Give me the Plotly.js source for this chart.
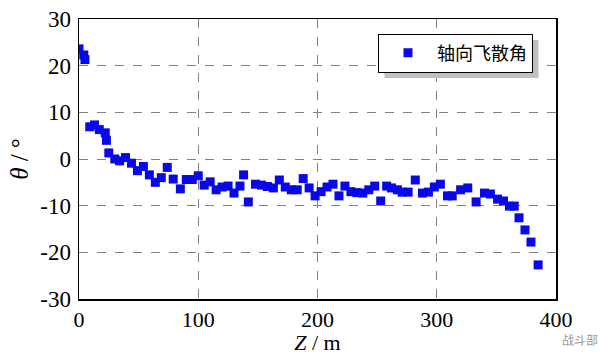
<!DOCTYPE html>
<html>
<head>
<meta charset="utf-8">
<script src="https://cdn.plot.ly/plotly-3.0.1.min.js"></script>
<style>html,body{margin:0;padding:0;background:#fff;}#chart{width:603px;height:355px;}</style>
</head>
<body>
<div id="chart"></div>
<script>
const seriesName = '轴向飞散角';
const zValues = [0, 4, 5, 9, 13, 17, 22, 23, 25, 30, 34, 39, 44, 49, 54, 59, 64, 69, 74, 79, 85, 90, 95, 100, 105, 110, 115, 120, 125, 130, 135, 138, 142, 148, 153, 158, 163, 168, 173, 178, 183, 188, 193, 198, 203, 208, 213, 218, 223, 228, 233, 238, 243, 248, 253, 258, 262, 267, 271, 276, 282, 288, 293, 298, 303, 309, 313, 320, 326, 333, 340, 345, 351, 356, 361, 365, 369, 374, 379, 385];
const thetaValues = [23.6, 22.3, 21.3, 6.9, 7.3, 6.3, 5.6, 4.0, 1.3, 0.0, -0.4, 0.3, -0.9, -2.5, -1.6, -3.4, -5.0, -4.0, -1.8, -4.3, -6.4, -4.4, -4.4, -3.6, -5.6, -4.9, -6.6, -6.0, -5.8, -7.3, -5.8, -3.4, -9.2, -5.4, -5.6, -5.9, -6.2, -4.5, -6.0, -6.6, -6.6, -4.2, -6.2, -7.9, -7.0, -6.0, -5.4, -7.9, -5.8, -7.0, -7.2, -7.3, -6.6, -5.8, -9.0, -5.8, -6.2, -6.6, -7.1, -7.1, -4.5, -7.3, -7.1, -6.0, -5.4, -7.9, -7.9, -6.6, -6.2, -9.2, -7.3, -7.5, -8.6, -9.0, -10.1, -10.1, -12.6, -15.2, -17.8, -22.7];
const xTicks = [0, 100, 200, 300, 400];
const yTicks = [-30, -20, -10, 0, 10, 20, 30];
const yTickText = ['-30', '-20', '-10', '0', '10', '20', '30'];

const serif = '"Liberation Serif", "Times New Roman", serif';
const trace = {
  x: zValues, y: thetaValues, type: 'scatter', mode: 'markers', name: seriesName,
  marker: {symbol: 'square', size: 9, color: '#0808e8', line: {width: 0}}
};
const axisCommon = {
  showline: true, linecolor: '#000', linewidth: 1.5, mirror: true,
  showgrid: true, gridcolor: '#808080', griddash: 'dash', gridwidth: 1,
  zeroline: false, ticks: '', tickfont: {family: serif, size: 23, color: '#000'}
};
const W = 477, H = 280, L = 79, T = 19;
const layout = {
  width: 603, height: 355,
  margin: {l: L, r: 47, t: T, b: 56},
  paper_bgcolor: '#fff', plot_bgcolor: '#fff',
  xaxis: Object.assign({}, axisCommon, {range: [0, 400], tickvals: xTicks, ticktext: xTicks.map(String), ticklabelstandoff: 0,
    tickfont: {family: serif, size: 22, color: '#000'},
    title: {text: '<i>Z</i> / m', font: {family: serif, size: 22, color: '#000'}, standoff: 8}}),
  yaxis: Object.assign({}, axisCommon, {range: [-30, 30], tickvals: yTicks, ticktext: yTickText, ticklabelstandoff: 2,
    title: {text: '<i>θ</i> / °', font: {family: serif, size: 25, color: '#000'}, standoff: 4}}),
  showlegend: true,
  legend: {x: (378-L)/W, y: (T+H-53)/H, xanchor: 'left', yanchor: 'middle', bgcolor: '#fff', bordercolor: '#000', borderwidth: 1,
    font: {family: '"Noto Sans CJK SC", sans-serif', size: 18, color: '#000'}, itemwidth: 48},
  shapes: [],
  annotations: [{xref: 'paper', yref: 'paper', x: (600-L)/W, y: (T+H-339)/H, xanchor: 'right', yanchor: 'middle',
    text: '战斗部', showarrow: false, font: {family: '"Noto Sans CJK SC", sans-serif', size: 12, color: '#999'}}]
};
Plotly.newPlot('chart', [trace], layout, {displayModeBar: false, staticPlot: true}).then(function (gd) {
  const bg = gd.querySelector('.legend .bg');
  if (!bg) return;
  const r = bg.getBoundingClientRect();
  const c = gd.getBoundingClientRect();
  const x0 = r.left - c.left + 6, x1 = r.right - c.left + 6;
  const y0 = r.top - c.top + 6, y1 = r.bottom - c.top + 6;
  return Plotly.relayout(gd, {shapes: [{type: 'rect', xref: 'paper', yref: 'paper',
    x0: (x0 - L) / W, x1: (x1 - L) / W, y0: (T + H - y1) / H, y1: (T + H - y0) / H,
    fillcolor: '#c0c0c0', line: {width: 0}, layer: 'above'}]});
});
</script>
</body>
</html>
